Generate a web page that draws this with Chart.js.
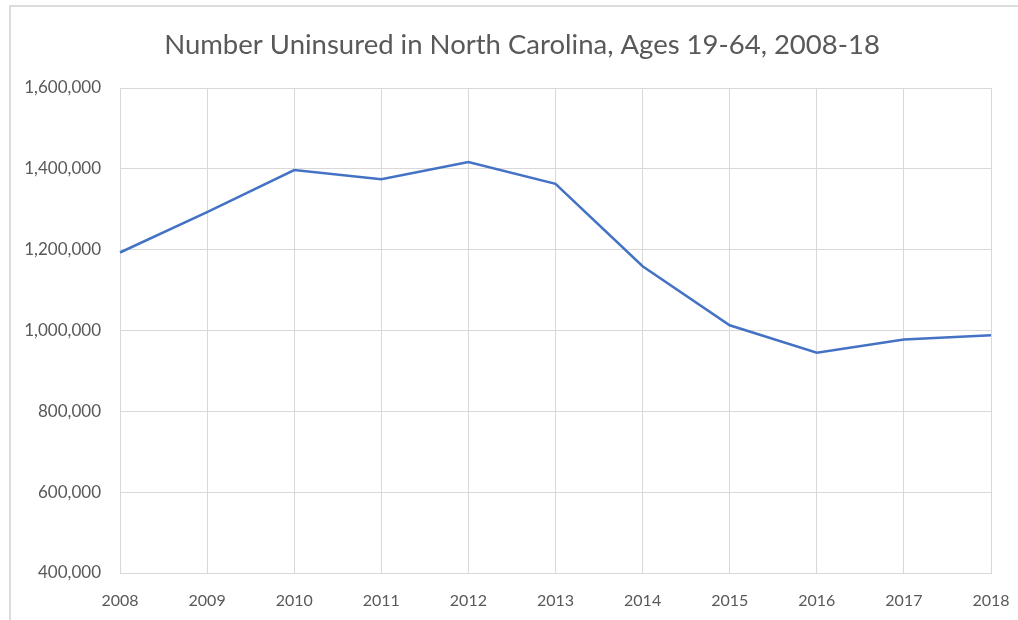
<!DOCTYPE html>
<html>
<head>
<meta charset="utf-8">
<script src="https://cdn.jsdelivr.net/npm/chart.js@4/dist/chart.umd.min.js"></script>
<style>
  html, body { margin: 0; padding: 0; background: #fff; }
  #wrap { position: relative; width: 1018px; height: 620px; }
  #frame {
    position: absolute; left: 9px; top: 5px; right: 0; bottom: 0;
    border-top: 2px solid #dcdcdc; border-left: 2px solid #dcdcdc;
    pointer-events: none;
  }
</style>
</head>
<body>
<div id="wrap">
  <canvas id="chart" width="1018" height="620"></canvas>
  <div id="frame"></div>
</div>
<script>
const years = ['2008', '2009', '2010', '2011', '2012', '2013', '2014', '2015', '2016', '2017', '2018'];
const uninsured = [1193000, 1293000, 1397000, 1374000, 1417000, 1363000, 1159000, 1013000, 945000, 978000, 988000];
const yTicks = [400000, 600000, 800000, 1000000, 1200000, 1400000, 1600000];
const titleText = 'Number Uninsured in North Carolina, Ages 19-64, 2008-18';

const textColor = '#595959';
const gridColor = '#d9d9d9';
const font = 'Lato, "Open Sans", sans-serif';

// title sits a bit left of the plot centre, as in the original
const titlePlugin = {
  id: 'offsetTitle',
  afterDraw(chart) {
    const c = chart.ctx;
    c.save();
    c.fillStyle = textColor;
    c.font = `27.5px ${font}`;
    c.textAlign = 'center';
    c.textBaseline = 'middle';
    c.fillText(titleText, chart.width / 2 + 13, 45);
    c.restore();
  }
};

const ctx = document.getElementById('chart').getContext('2d');
new Chart(ctx, {
  type: 'line',
  data: {
    labels: years,
    datasets: [{
      label: 'Uninsured',
      data: uninsured,
      borderColor: '#4472c4',
      borderWidth: 2.5,
      pointRadius: 0,
      tension: 0,
      fill: false
    }]
  },
  plugins: [titlePlugin],
  options: {
    responsive: false,
    animation: false,
    layout: { padding: { left: 10, right: 27, top: 88, bottom: 0 } },
    plugins: {
      legend: { display: false },
      tooltip: { enabled: false },
      title: { display: false }
    },
    scales: {
      x: {
        offset: false,
        grid: { color: gridColor, drawTicks: false },
        border: { color: gridColor },
        ticks: { color: textColor, font: { family: font, size: 16 }, padding: 18, maxRotation: 0 },
        afterFit: s => { s.height = 47; s.paddingLeft = 0; s.paddingRight = 0; }
      },
      y: {
        min: 400000,
        max: 1600000,
        grid: { color: gridColor, drawTicks: false },
        border: { color: gridColor },
        afterBuildTicks: s => { s.ticks = yTicks.map(v => ({ value: v })); },
        afterFit: s => { s.width = 110; s.paddingTop = 0; s.paddingBottom = 0; },
        ticks: {
          color: textColor,
          font: { family: font, size: 17 },
          padding: 19,
          callback: v => v.toLocaleString('en-US')
        }
      }
    }
  }
});
</script>
</body>
</html>
